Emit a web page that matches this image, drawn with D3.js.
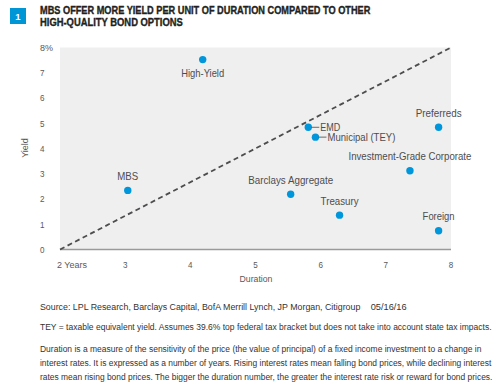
<!DOCTYPE html>
<html>
<head>
<meta charset="utf-8">
<script src="https://cdn.jsdelivr.net/npm/d3@7"></script>
<style>
  body { margin: 0; background: #fff; }
  svg text { font-family: "Liberation Sans", Arial, sans-serif; }
</style>
</head>
<body>
<div class="chart"></div>
<script>
var names = ["High-Yield", "MBS", "EMD", "Municipal (TEY)", "Preferreds",
  "Investment-Grade Corporate", "Barclays Aggregate", "Treasury", "Foreign"];
var durations = [4.19, 3.04, 5.81, 5.92, 7.81, 7.37, 5.54, 6.29, 7.81];
var yields = [7.52, 2.34, 4.84, 4.45, 4.84, 3.12, 2.19, 1.36, 0.74];
// where the label sits relative to its dot
var labelPos = ["below", "above", "right", "right", "above", "above", "above", "above", "above"];
// label widths, the source font is condensed
var labelWidths = [43, 21, 20, 68, 46, 123, 85, 38, 32];

var xTicks = [2, 3, 4, 5, 6, 7, 8];
var xTickLabels = ["2 Years", "3", "4", "5", "6", "7", "8"];
var yTicks = [0, 1, 2, 3, 4, 5, 6, 7, 8];
var yTickLabels = ["0", "1", "2", "3", "4", "5", "6", "7", "8%"];
var refLine = [[2, 0], [8, 8]];

var titleLines = ["MBS OFFER MORE YIELD PER UNIT OF DURATION COMPARED TO OTHER", "HIGH-QUALITY BOND OPTIONS"];
var titleWidths = [331, 143];
var notes = [
  "TEY = taxable equivalent yield. Assumes 39.6% top federal tax bracket but does not take into account state tax impacts."
];
var para = [
  "Duration is a measure of the sensitivity of the price (the value of principal) of a fixed income investment to a change in",
  "interest rates. It is expressed as a number of years. Rising interest rates mean falling bond prices, while declining interest",
  "rates mean rising bond prices. The bigger the duration number, the greater the interest rate risk or reward for bond prices."
];
var paraWidths = [442, 452, 453];

var svgWidth = 502, svgHeight = 386;
var margin = {top: 47.5, left: 60};
var width = 391, height = 202;

var svg = d3.select(".chart").append("svg")
  .attr("width", svgWidth)
  .attr("height", svgHeight);

// squeeze a text horizontally to a width (source font is condensed)
function squeeze(sel, w) {
  sel.each(function (d, i) {
    var tw = typeof w == "function" ? w(d, i) : w;
    var len = this.getComputedTextLength();
    var s = tw / len;
    var x0 = +this.getAttribute("x");
    this.setAttribute("transform", `translate(${x0 * (1 - s)},0) scale(${s},1)`);
  });
}

// header box + title
svg.append("rect")
  .attr("x", 10).attr("y", 8).attr("width", 16).attr("height", 16)
  .attr("fill", "#0096d6");
svg.append("text")
  .attr("x", 18).attr("y", 20)
  .attr("text-anchor", "middle")
  .attr("fill", "#fff").attr("font-size", 9.5).attr("font-weight", "bold")
  .text("1");
titleLines.forEach(function (t, i) {
  svg.append("text")
    .attr("x", 40).attr("y", 14.5 + i * 11.7)
    .attr("fill", "#231f20").attr("font-size", 10.5).attr("font-weight", "bold")
    .style("paint-order", "stroke").attr("stroke", "#231f20").attr("stroke-width", 0.35)
    .text(t)
    .call(squeeze, titleWidths[i]);
});

var chartGroup = svg.append("g")
  .attr("transform", `translate(${margin.left}, ${margin.top})`);

var x = d3.scaleLinear().domain([2, 8]).range([0, width]);
var y = d3.scaleLinear().domain([0, 8]).range([height, 0]);

chartGroup.append("rect")
  .attr("width", width).attr("height", height)
  .attr("fill", "#efefef");

chartGroup.append("line")
  .attr("x1", 0).attr("x2", width)
  .attr("y1", height).attr("y2", height)
  .attr("stroke", "#9a9a9a").attr("stroke-width", 1.5);

// tick labels
chartGroup.selectAll(".xtick")
  .data(xTicks)
  .enter().append("text")
  .attr("x", (d, i) => i == 0 ? x(d) - 3 : x(d))
  .attr("y", height + 18.5)
  .attr("text-anchor", (d, i) => i == 0 ? "start" : "middle")
  .attr("font-size", 9.5).attr("fill", "#58595b")
  .text((d, i) => xTickLabels[i])
  .call(squeeze, (d, i) => i == 0 ? 30 : 4.5);

chartGroup.selectAll(".ytick")
  .data(yTicks)
  .enter().append("text")
  .attr("x", -20)
  .attr("y", d => y(d) + 3.5)
  .attr("font-size", 9.5).attr("fill", "#58595b")
  .text((d, i) => yTickLabels[i])
  .call(squeeze, (d, i) => i == 8 ? 13 : 4.5);

chartGroup.append("text")
  .attr("x", width / 2 + 0.5).attr("y", height + 33)
  .attr("text-anchor", "middle")
  .attr("font-size", 9.5).attr("fill", "#58595b")
  .text("Duration")
  .call(squeeze, 33);

chartGroup.append("text")
  .attr("transform", "rotate(-90)")
  .attr("x", -(y(4) - 0.5)).attr("y", -32)
  .attr("text-anchor", "middle")
  .attr("font-size", 9).attr("fill", "#58595b")
  .text("Yield");

// reference line
chartGroup.append("line")
  .attr("x1", x(refLine[0][0])).attr("y1", y(refLine[0][1]))
  .attr("x2", x(refLine[1][0])).attr("y2", y(refLine[1][1]))
  .attr("stroke", "#4d4d4f").attr("stroke-width", 1.8)
  .attr("stroke-dasharray", "5,3.5");

var pts = names.map((n, i) => ({name: n, d: durations[i], y: yields[i], pos: labelPos[i], w: labelWidths[i]}));

chartGroup.selectAll("circle")
  .data(pts)
  .enter().append("circle")
  .attr("cx", d => x(d.d))
  .attr("cy", d => y(d.y))
  .attr("r", 3.7)
  .attr("fill", "#0096dc");

// leader lines for side labels
chartGroup.selectAll(".leader")
  .data(pts.filter(d => d.pos == "right"))
  .enter().append("line")
  .attr("x1", d => x(d.d) + 3)
  .attr("x2", d => x(d.d) + 11)
  .attr("y1", d => y(d.y)).attr("y2", d => y(d.y))
  .attr("stroke", "#58595b").attr("stroke-width", 0.9);

chartGroup.selectAll(".lbl")
  .data(pts)
  .enter().append("text")
  .attr("x", d => d.pos == "right" ? x(d.d) + 12 : x(d.d))
  .attr("y", d => d.pos == "above" ? y(d.y) - 10.5 : d.pos == "below" ? y(d.y) + 17.5 : y(d.y) + 3.5)
  .attr("text-anchor", d => d.pos == "right" ? "start" : "middle")
  .attr("font-size", 10).attr("fill", "#4d4d4f")
  .text(d => d.name)
  .call(squeeze, d => d.w);

// footnotes
svg.append("text")
  .attr("x", 40).attr("y", 310)
  .attr("font-size", 9.5).attr("fill", "#333")
  .text("Source: LPL Research, Barclays Capital, BofA Merrill Lynch, JP Morgan, Citigroup")
  .call(squeeze, 321);
svg.append("text")
  .attr("x", 370.7).attr("y", 310)
  .attr("font-size", 9.5).attr("fill", "#333")
  .text("05/16/16")
  .call(squeeze, 36);

svg.append("text")
  .attr("x", 40).attr("y", 330)
  .attr("font-size", 9.5).attr("fill", "#333")
  .text(notes[0])
  .call(squeeze, 452);

svg.selectAll(".para")
  .data(para)
  .enter().append("text")
  .attr("x", 40)
  .attr("y", (d, i) => 352.5 + i * 13.7)
  .attr("font-size", 9.5).attr("fill", "#333")
  .text(d => d)
  .call(squeeze, (d, i) => paraWidths[i]);
</script>
</body>
</html>
